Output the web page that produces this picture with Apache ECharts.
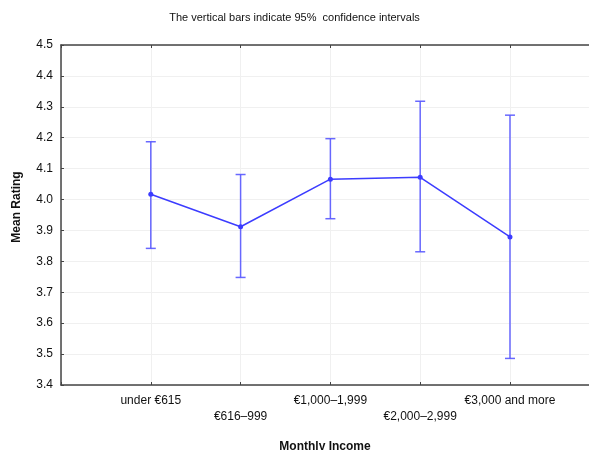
<!DOCTYPE html>
<html>
<head>
<meta charset="utf-8">
<script src="https://cdn.jsdelivr.net/npm/echarts@6/dist/echarts.min.js"></script>
<style>html,body{margin:0;padding:0;background:#fff;}#c{width:589px;height:450px;}</style>
</head>
<body>
<div id="c"></div>
<script>
const categories = ['under €615', '€616–999', '€1,000–1,999', '€2,000–2,999', '€3,000 and more'];
const means = [4.017, 3.912, 4.066, 4.072, 3.879];
const upper = [4.187, 4.081, 4.197, 4.318, 4.273];
const lower = [3.842, 3.748, 3.938, 3.831, 3.486];
const yTicks = [3.4, 3.5, 3.6, 3.7, 3.8, 3.9, 4.0, 4.1, 4.2, 4.3, 4.4, 4.5];

const FONT = '"Liberation Sans", Arial, sans-serif';
const LINE = '#3c3cff';
const BAR = '#5858ff';
const X_MAX = 5.88;

const chart = echarts.init(document.getElementById('c'), null, {renderer: 'canvas'});
const lineData = means.map((m, i) => [i + 1, m]);
const errData = means.map((m, i) => [i + 1, lower[i], upper[i]]);

chart.setOption({
  animation: false,
  title: {
    text: 'The vertical bars indicate 95%  confidence intervals',
    left: 'center', top: 7,
    textStyle: {fontFamily: FONT, fontSize: 11, fontWeight: 'normal', color: '#111'}
  },
  grid: {left: 61, top: 45, bottom: 65, right: 0, containLabel: false, outerBoundsMode: 'none'},
  xAxis: [{
    type: 'value', min: 0, max: X_MAX, interval: 1, position: 'bottom',
    name: 'Monthly Income', nameLocation: 'middle', nameGap: 56,
    nameTextStyle: {fontFamily: FONT, fontSize: 12, fontWeight: 'bold', color: '#111'},
    axisLine: {show: true, lineStyle: {color: '#444', width: 1.5}},
    axisTick: {show: true, inside: true, length: 3, lineStyle: {color: '#444'}},
    splitLine: {show: true, lineStyle: {color: '#f0f0f0', width: 1}},
    axisLabel: {
      fontFamily: FONT, fontSize: 12, color: '#111', margin: 8, lineHeight: 16,
      showMaxLabel: false,
      formatter: function (v) {
        const c = categories[Math.round(v) - 1];
        if (!c || Math.abs(v - Math.round(v)) > 1e-6) return '';
        return (Math.round(v) - 1) % 2 === 1 ? '\n' + c : c;
      }
    }
  }, {
    type: 'value', min: 0, max: X_MAX, interval: 1, position: 'top',
    axisLine: {show: true, lineStyle: {color: '#444', width: 1.5}},
    axisTick: {show: true, inside: true, length: 3, lineStyle: {color: '#444'}},
    axisLabel: {show: false}, splitLine: {show: false}
  }],
  yAxis: {
    type: 'value', min: yTicks[0], max: yTicks[yTicks.length - 1], interval: 0.1,
    name: 'Mean Rating', nameLocation: 'middle', nameGap: 38,
    nameTextStyle: {fontFamily: FONT, fontSize: 12, fontWeight: 'bold', color: '#111', padding: [0, 0, 0, 16]},
    axisLine: {show: true, lineStyle: {color: '#444', width: 1.5}},
    axisTick: {show: true, inside: true, length: 3, lineStyle: {color: '#444'}},
    splitLine: {show: true, lineStyle: {color: '#f0f0f0', width: 1}},
    axisLabel: {fontFamily: FONT, fontSize: 12, color: '#111', margin: 8,
      formatter: v => v.toFixed(1)}
  },
  series: [{
    type: 'custom',
    xAxisIndex: 0,
    data: errData,
    z: 2,
    renderItem: function (params, api) {
      const x = api.value(0);
      const lo = api.coord([x, api.value(1)]);
      const hi = api.coord([x, api.value(2)]);
      const w = 5;
      const st = {stroke: BAR, lineWidth: 1.5, opacity: 0.9};
      return {
        type: 'group',
        children: [
          {type: 'line', shape: {x1: lo[0], y1: lo[1], x2: hi[0], y2: hi[1]}, style: st},
          {type: 'line', shape: {x1: hi[0] - w, y1: hi[1], x2: hi[0] + w, y2: hi[1]}, style: st},
          {type: 'line', shape: {x1: lo[0] - w, y1: lo[1], x2: lo[0] + w, y2: lo[1]}, style: st}
        ]
      };
    }
  }, {
    type: 'line',
    xAxisIndex: 0,
    data: lineData,
    z: 3,
    symbol: 'circle', symbolSize: 5,
    lineStyle: {color: LINE, width: 1.5},
    itemStyle: {color: LINE}
  }]
});
</script>
</body>
</html>
